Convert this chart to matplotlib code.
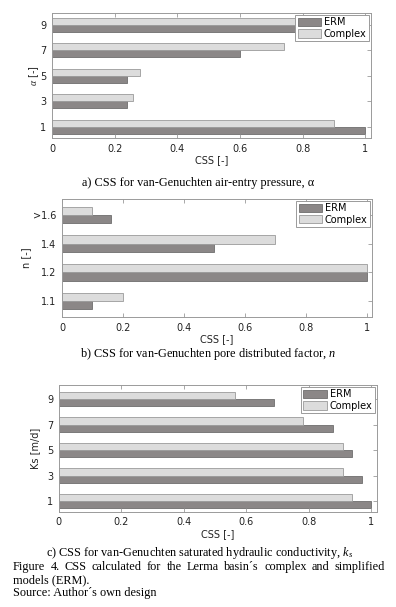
import numpy as np
import matplotlib.pyplot as plt

# panel a) alpha
alpha_pos = [1, 3, 5, 7, 9]
alpha_erm = [1.00, 0.24, 0.24, 0.60, 0.95]
alpha_complex = [0.90, 0.26, 0.28, 0.74, 0.92]

# panel b) n
n_labels = ['1.1', '1.2', '1.4', '>1.6']
n_erm = [0.10, 1.00, 0.50, 0.16]
n_complex = [0.20, 1.00, 0.70, 0.10]

# panel c) Ks
ks_pos = [1, 3, 5, 7, 9]
ks_erm = [1.00, 0.97, 0.94, 0.877, 0.689]
ks_complex = [0.94, 0.909, 0.909, 0.783, 0.564]

xt = [0, 0.2, 0.4, 0.6, 0.8, 1]
xt_labels = ['0', '0.2', '0.4', '0.6', '0.8', '1']

plt.rcParams['mathtext.fontset'] = 'custom'
plt.rcParams['mathtext.rm'] = 'Liberation Serif'
plt.rcParams['mathtext.it'] = 'Liberation Serif:italic'

c_erm = '#8b8787'
c_cpx = '#dcdcdc'
c_edge = '#6e6e6e'
c_spine = '#9a9a9a'
fs = 7.0

fig = plt.figure(figsize=(3.96, 6.07), dpi=100)


def panel(rect, pos, erm, cpx, h, ylim, ylabel, ylab_x, ticklabels=None):
    ax = fig.add_axes(rect)
    pos = np.array(pos, dtype=float)
    ax.barh(pos - h / 2, erm, height=h, color=c_erm, edgecolor=c_edge, linewidth=0.6, label='ERM')
    ax.barh(pos + h / 2, cpx, height=h, color=c_cpx, edgecolor=c_spine, linewidth=0.6, label='Complex')
    ax.set_xlim(0, 1.018)
    ax.set_ylim(*ylim)
    ax.set_xticks(xt)
    ax.set_xticklabels(xt_labels)
    ax.set_yticks(pos)
    ax.set_yticklabels(ticklabels if ticklabels else [str(int(p)) for p in pos])
    ax.tick_params(direction='in', top=True, right=True, length=3, width=0.6,
                   colors='#222222', labelsize=fs, pad=4)
    ax.tick_params(color=c_spine)
    for s in ax.spines.values():
        s.set_color(c_spine)
        s.set_linewidth(0.7)
    ax.set_xlabel('CSS [-]', fontsize=fs, color='#222222', labelpad=1)
    ax.set_ylabel(ylabel, fontsize=fs, color='#222222')
    ax.yaxis.set_label_coords(ylab_x, 0.5)
    leg = ax.legend(loc='upper right', fontsize=fs, frameon=True, fancybox=False,
                    borderpad=0.25, labelspacing=0.15, handlelength=2.4, handleheight=0.9,
                    handletextpad=0.3, borderaxespad=0.2, framealpha=1)
    leg.get_frame().set_edgecolor(c_spine)
    leg.get_frame().set_linewidth(0.7)
    return ax


panel([0.1313, 0.7727, 0.8056, 0.2059], alpha_pos, alpha_erm, alpha_complex, 0.56,
      (0.12, 9.92), r'$\alpha$ [-]', -0.035)
panel([0.1566, 0.4778, 0.7828, 0.1944], [1, 2, 3, 4], n_erm, n_complex, 0.29,
      (0.44, 4.56), 'n [-]', -0.1, n_labels)
panel([0.1482, 0.157, 0.803, 0.2087], ks_pos, ks_erm, ks_complex, 0.56,
      (0.16, 10.1), 'Ks [m/d]', -0.06)

cap = dict(fontsize=8.8, family='Liberation Serif', color='black')
fig.text(0.5, 1 - 183 / 607, r'a) CSS for van-Genuchten air-entry pressure, α', ha='center', va='center', **cap)
fig.text(0.525, 1 - 354 / 607, r'b) CSS for van-Genuchten pore distributed factor, $n$', ha='center', va='center', **cap)
fig.text(0.505, 1 - 553 / 607, r'c) CSS for van-Genuchten saturated hydraulic conductivity, $k_s$', ha='center', va='center', **cap)

# justified first line of the figure caption
words = 'Figure 4. CSS calculated for the Lerma basin\u00b4s complex and simplified'.split()
x_left, x_right = 13 / 396, 385 / 396
y_line = 1 - 567 / 607
fig.canvas.draw()
rend = fig.canvas.get_renderer()
objs = [fig.text(0, y_line, w, ha='left', va='center', **cap) for w in words]
widths = [o.get_window_extent(rend).width / fig.bbox.width for o in objs]
gap = (x_right - x_left - sum(widths)) / (len(words) - 1)
x = x_left
for o, w in zip(objs, widths):
    o.set_x(x)
    x += w + gap

fig.text(13 / 396, 1 - 580 / 607, 'models (ERM).', ha='left', va='center', **cap)
fig.text(13 / 396, 1 - 593 / 607, 'Source: Author\u00b4s own design', ha='left', va='center', **cap)

fig.savefig('out.png', dpi=100)
